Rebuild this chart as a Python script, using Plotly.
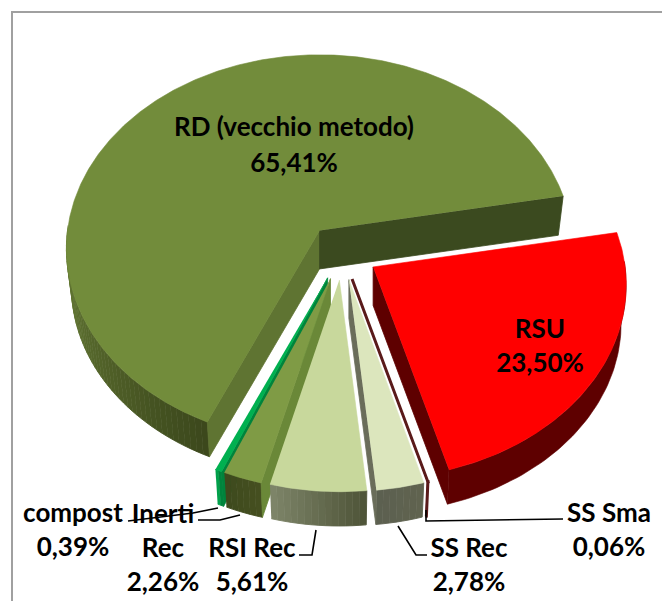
import numpy as np
import plotly.graph_objects as go

# --- data ---
categories = ["RSU", "SS Sma", "SS Rec", "RSI Rec", "Inerti Rec", "compost", "RD (vecchio metodo)"]
values = [23.50, 0.06, 2.78, 5.61, 2.26, 0.39, 65.41]
pct_labels = ["23,50%", "0,06%", "2,78%", "5,61%", "2,26%", "0,39%", "65,41%"]
top_colors = ["#ff0000", "#5a1a1a", "#dce6bd", "#c8d89c", "#7f9b45", "#00b050", "#728c3b"]
cut_colors = ["#660000", "#4a1515", "#60634f", "#5c6347", "#6a8838", "#00843c", "#5f7432"]
cut_colors_lo = ["#5e0000", "#4a1515", "#6a6d5a", "#5c6347", "#6a8838", "#00843c", "#3b4a1f"]
side_a = ["#5e0000", "#5a1a1a", "#5c6050", "#7d8468", "#3e4a1d", "#00a04a", "#6a8038"]
side_b = ["#5e0000", "#5a1a1a", "#60634f", "#4f5539", "#454f20", "#00843c", "#3c481c"]

# --- projection of the pie (axes run in page pixels) ---
CX, CY = 342.1, 252.3
RX, RY = 252.0, 192.0
PERSP = 0.093
DEPTH = 38.5
SHRINK = 0.98
EXPLODE = 36.5
START = 10.5


def proj(a, ox, oy, f=1.0):
    r = np.radians(a)
    g = f / (1 + PERSP * np.sin(r))
    return ox + RX * g * np.cos(r), oy - RY * g * np.sin(r)


fig = go.Figure()


def poly(xs, ys, color, width=0.8):
    fig.add_trace(go.Scatter(x=list(xs), y=list(ys), mode="lines", fill="toself",
                             fillcolor=color, line=dict(color=color, width=width),
                             hoverinfo="skip", showlegend=False))


def mix(c1, c2, t):
    a = [int(c1[i:i + 2], 16) for i in (1, 3, 5)]
    b = [int(c2[i:i + 2], 16) for i in (1, 3, 5)]
    return "#%02x%02x%02x" % tuple(int(round(a[i] + (b[i] - a[i]) * t)) for i in range(3))


total = sum(values)
spans = []
ang = START
for v in values:
    sweep = v / total * 360.0
    spans.append((ang, ang - sweep))
    ang -= sweep

order = [6, 5, 4, 3, 2, 1, 0]
for i in order:
    hi, lo = spans[i]
    mid = np.radians((hi + lo) / 2)
    ox = CX + EXPLODE * np.cos(mid)
    oy = CY - EXPLODE * (RY / RX) * np.sin(mid)
    thin = (hi - lo) < 1.0
    # outer wall, only the part facing the viewer
    n = max(2, int((hi - lo) / 1.5) + 1)
    edges = np.linspace(lo, hi, n + 1)
    visible = [(edges[k], edges[k + 1]) for k in range(n)
               if np.sin(np.radians((edges[k] + edges[k + 1]) / 2)) < 0.02]
    m = len(visible)
    if side_a[i] == side_b[i]:
        a = np.linspace(visible[0][0], visible[-1][1], 60)
        x1, y1 = proj(a, ox, oy)
        x2, y2 = proj(a[::-1], ox, oy + DEPTH, SHRINK)
        poly(np.r_[x1, x2], np.r_[y1, y2], side_a[i], 3 if thin else 0.6)
    else:
        for k, (e0, e1) in enumerate(visible):
            t = k / max(1, m - 1)
            a = np.array([e0, e1])
            x1, y1 = proj(a, ox, oy)
            x2, y2 = proj(a[::-1], ox, oy + DEPTH, SHRINK)
            poly(np.r_[x1, x2], np.r_[y1, y2], mix(side_a[i], side_b[i], t), 0.9)
    # cut faces
    if not thin:
        for edge, nrm, col in ((hi, hi + 90, cut_colors[i]), (lo, lo - 90, cut_colors_lo[i])):
            if np.sin(np.radians(nrm)) < 0:
                xr, yr = proj(edge, ox, oy)
                xb, yb = proj(edge, ox, oy + DEPTH, SHRINK)
                poly([ox, xr, xb, ox, ox], [oy, yr, yb, oy + DEPTH, oy], col)
    # top
    a = np.linspace(hi, lo, max(3, int((hi - lo) * 2)))
    x, y = proj(a, ox, oy)
    poly(np.r_[ox, x], np.r_[oy, y], top_colors[i], 3 if thin else 0.6)

# --- leader lines: from slice rim to the label ---
leaders = [
    ([218, 193, 128], [508, 513, 521]),
    ([240, 220, 198], [515, 520, 520]),
    ([316, 312, 299], [530, 555, 555]),
    ([398, 416, 427], [526, 555, 555]),
    ([426, 426, 563], [510, 521, 519]),
]
for lx, ly in leaders:
    fig.add_trace(go.Scatter(x=lx, y=ly, mode="lines", line=dict(color="#000000", width=1.6),
                             hoverinfo="skip", showlegend=False))

# --- chart border ---
fig.add_trace(go.Scatter(x=[12, 12, 670], y=[601, 12, 12], mode="lines",
                         line=dict(color="#a0a0a0", width=2), hoverinfo="skip", showlegend=False))

# --- labels ---
FONT = dict(family="Lato, Open Sans, sans-serif", size=26, color="#000000")
label_pos = {
    "RD (vecchio metodo)": (294, 129, 165),
    "RSU": (540, 331, 365),
    "compost": (73, 515, 549),
    "SS Sma": (609, 515, 549),
    "SS Rec": (469, 550, 584),
    "RSI Rec": (252, 550, 584),
}
texts_x, texts_y, texts = [], [], []
for c, p in zip(categories, pct_labels):
    if c == "Inerti Rec":
        for tx, ty, tt in ((163, 516, "Inerti"), (163, 550, "Rec"), (163, 584, p)):
            texts_x.append(tx); texts_y.append(ty); texts.append(tt)
    else:
        tx, y1, y2 = label_pos[c]
        texts_x += [tx, tx]; texts_y += [y1, y2]; texts += [c, p]
fig.add_trace(go.Scatter(x=texts_x, y=texts_y, text=[f"<b>{t}</b>" for t in texts], mode="text",
                         textposition="middle center", textfont=FONT, cliponaxis=False,
                         hoverinfo="skip", showlegend=False))

fig.update_layout(width=662, height=593, margin=dict(l=0, r=0, t=0, b=0), autosize=False,
                  paper_bgcolor="white", plot_bgcolor="white", showlegend=False,
                  xaxis=dict(range=[8, 670], visible=False, fixedrange=True),
                  yaxis=dict(range=[601, 8], visible=False, fixedrange=True))
fig.write_html("out.html", config=dict(displayModeBar=False))
